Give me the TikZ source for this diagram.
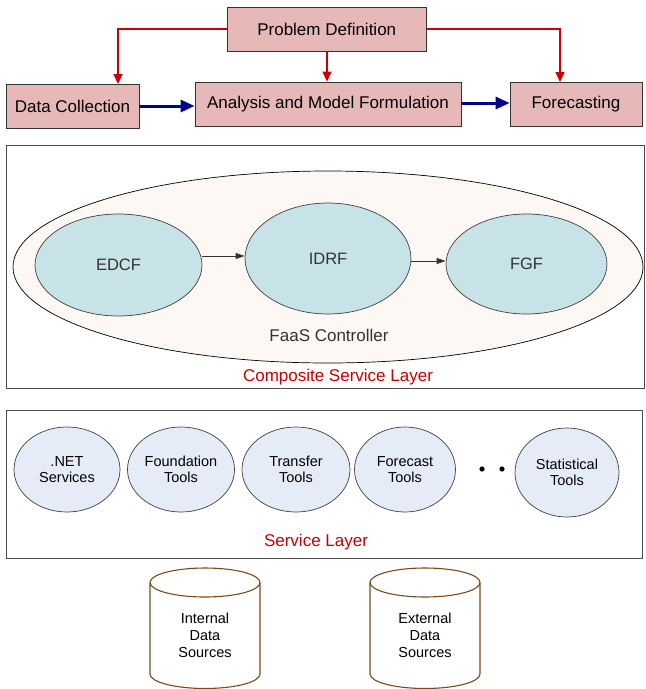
\documentclass[tikz,border=0pt]{standalone}
\usepackage{fontspec}
\setmainfont{Liberation Sans}
\usetikzlibrary{arrows.meta,shapes.geometric}
\definecolor{pinkfill}{HTML}{E6B9B8}
\definecolor{tealfill}{HTML}{C8E3E8}
\definecolor{creamfill}{HTML}{FDF8F3}
\definecolor{bluefill}{HTML}{E6ECF7}
\definecolor{redline}{HTML}{CC0000}
\definecolor{navyline}{HTML}{00008C}
\definecolor{cylbrown}{HTML}{7A4A1E}
\definecolor{txtgray}{HTML}{333333}
\begin{document}
\begin{tikzpicture}[x=1pt,y=-1pt,
  pinkbox/.style={draw=black!80,fill=pinkfill,line width=0.8pt,inner sep=0pt,font=\fontsize{17}{19}\selectfont},
  redarrow/.style={draw=redline,line width=1.3pt,-{Triangle[length=10pt,width=9pt]}},
  bluearrow/.style={draw=navyline,line width=3pt,-{Triangle[length=14pt,width=12pt]}},
  blackarrow/.style={draw=black!80,line width=0.8pt,-{Triangle[length=9pt,width=6pt]}},
  funcell/.style={ellipse,draw=black!75,fill=tealfill,line width=0.7pt,inner sep=0pt,text=txtgray,font=\fontsize{16.5}{19}\selectfont},
  svc/.style={ellipse,draw=black!75,fill=bluefill,line width=0.7pt,inner sep=0pt,align=center,font=\fontsize{14.5}{16.5}\selectfont},
  layer/.style={draw=black!70,line width=0.8pt},
  redlabel/.style={text=redline,font=\fontsize{17}{19}\selectfont},
  cyltext/.style={align=center,font=\fontsize{14.5}{17}\selectfont}
]
\useasboundingbox (0,0) rectangle (646,689);
\fill[white] (0,0) rectangle (646,689);

% top process
\node[pinkbox,minimum width=199pt,minimum height=44pt] (pd) at (326.75,29) {Problem Definition};
\node[pinkbox,minimum width=133pt,minimum height=44pt] (dc) at (72.5,106) {Data Collection};
\node[pinkbox,minimum width=266pt,minimum height=44pt] (am) at (328,104) {Analysis and Model Formulation};
\node[pinkbox,minimum width=132pt,minimum height=44pt] (fc) at (576,104) {Forecasting};

\coordinate (dcTop) at (118,84);
\coordinate (fcTop) at (560,82);
\draw[redarrow] (pd.west |- 0,29) -| (dcTop);
\draw[redarrow] (pd.south -| 327,0) -- (am.north -| 327,0);
\draw[redarrow] (pd.east |- 0,29) -| (fcTop);
\draw[bluearrow] (dc.east |- 0,106) -- (am.west |- 0,106);
\draw[bluearrow] (am.east |- 0,103) -- (fc.west |- 0,103);

% composite service layer
\draw[layer] (6,145) rectangle (644,388);
\node[ellipse,draw=black,fill=creamfill,line width=0.7pt,minimum width=630pt,minimum height=192pt,inner sep=0pt] (faas) at (328,267) {};
\node[funcell,minimum width=167pt,minimum height=102pt] (edcf) at (118.5,265) {EDCF};
\node[funcell,minimum width=166pt,minimum height=111pt] (idrf) at (328,258.5) {IDRF};
\node[funcell,minimum width=161pt,minimum height=100pt] (fgf) at (526.5,264) {FGF};
\draw[blackarrow] (edcf.east |- 0,256) -- (idrf.west |- 0,256);
\draw[blackarrow] (idrf.east |- 0,261) -- (fgf.west |- 0,261);
\node[text=txtgray,font=\fontsize{17}{19}\selectfont] (faaslbl) at (329,335) {FaaS Controller};
\node[redlabel] (csl) at (338,377) {Composite Service Layer};

% service layer
\draw[layer] (6,410) rectangle (642,558);
\node[svc,minimum width=106pt,minimum height=85pt] (net) at (67,469.5) {.NET\\Services};
\node[svc,minimum width=107pt,minimum height=85pt] (found) at (181,469.5) {Foundation\\Tools};
\node[svc,minimum width=108pt,minimum height=85pt] (trans) at (296,469.5) {Transfer\\Tools};
\node[svc,minimum width=101pt,minimum height=85pt] (fcst) at (405,469.5) {Forecast\\Tools};
\node[svc,minimum width=104pt,minimum height=89pt] (stat) at (567,472.5) {Statistical\\Tools};
\fill[black] (482,469) circle (2.6pt) (502,469) circle (2.6pt);
\node[redlabel] (sl) at (316,542) {Service Layer};

% data sources
\begin{scope}
\clip (0,0) rectangle (646,689);
\foreach \cx/\nm in {205/int,425/ext}{
  \draw[cylbrown,line width=1.1pt]
    (\cx-55,582.5) -- (\cx-55,674) arc[start angle=180,end angle=360,x radius=55pt,y radius=14.5pt] -- (\cx+55,582.5);
  \draw[cylbrown,line width=1.1pt] (\cx,582.5) ellipse[x radius=55pt,y radius=14.5pt];
}
\end{scope}
\node[cyltext] (intds) at (205,635) {Internal\\Data\\Sources};
\node[cyltext] (extds) at (425,635) {External\\Data\\Sources};
\end{tikzpicture}
\end{document}
